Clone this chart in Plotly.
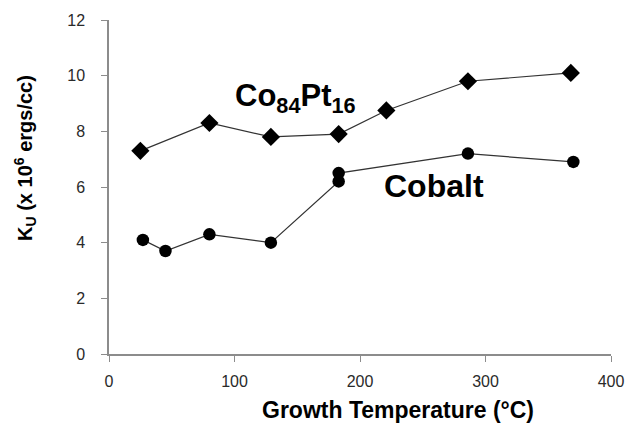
import plotly.graph_objects as go

# Growth temperature (°C) and uniaxial anisotropy K_U (x 10^6 ergs/cc)
copt_temp = [25, 80, 129, 183, 221, 286, 368]
copt_ku = [7.3, 8.3, 7.8, 7.9, 8.75, 9.8, 10.1]

co_temp = [27, 45, 80, 129, 183, 183, 286, 370]
co_ku = [4.1, 3.7, 4.3, 4.0, 6.2, 6.5, 7.2, 6.9]

x_ticks = [0, 100, 200, 300, 400]
y_ticks = [0, 2, 4, 6, 8, 10, 12]

line_col = "#333333"
axis_col = "#8c8c8c"

W, H = 636, 423
L, R, T, B = 109, 23, 19, 69


def px_to_paper(px, py):
    return (px - L) / (W - L - R), 1 - (py - T) / (H - T - B)


fig = go.Figure()
fig.add_trace(go.Scatter(
    x=copt_temp, y=copt_ku, mode="lines+markers",
    line=dict(color=line_col, width=1.2),
    marker=dict(symbol="diamond", size=14, color="black"),
    showlegend=False,
))
fig.add_trace(go.Scatter(
    x=co_temp, y=co_ku, mode="lines+markers",
    line=dict(color=line_col, width=1.2),
    marker=dict(symbol="circle", size=12.5, color="black"),
    showlegend=False,
))

bold = "Liberation Sans"
fig.add_annotation(x=149, y=9.2, xref="x", yref="y", showarrow=False,
                   text="<b>Co<sub>84</sub>Pt<sub>16</sub></b>",
                   font=dict(family=bold, size=31, color="black"))
fig.add_annotation(x=259, y=6.05, xref="x", yref="y", showarrow=False,
                   text="<b>Cobalt</b>",
                   font=dict(family=bold, size=32, color="black"))

# axis titles
yx, yy = px_to_paper(25, 157)
fig.add_annotation(x=yx, y=yy, xref="paper", yref="paper", showarrow=False,
                   xanchor="center", yanchor="middle",
                   text="<b>K<sub>U</sub> (x 10<sup>6</sup> ergs/cc)</b>",
                   textangle=-90, font=dict(family=bold, size=20, color="black"))
xx, xy = px_to_paper(399, 410)
fig.add_annotation(x=xx, y=xy, xref="paper", yref="paper", showarrow=False,
                   xanchor="center", yanchor="middle",
                   text="<b>Growth Temperature (°C)</b>",
                   font=dict(family=bold, size=23, color="black"))

tick_font = dict(family="Liberation Sans", size=16, color="#2a2a2a")
fig.update_layout(
    width=W, height=H, margin=dict(l=L, r=R, t=T, b=B),
    plot_bgcolor="white", paper_bgcolor="white",
    xaxis=dict(range=[0, 400], tickvals=x_ticks, showgrid=False, zeroline=False,
               showline=True, linecolor=axis_col, linewidth=1.5,
               ticks="outside", ticklen=6, tickcolor=axis_col, tickwidth=1.2,
               tickfont=tick_font, ticklabelstandoff=6),
    yaxis=dict(range=[0, 12], tickvals=y_ticks, showgrid=False, zeroline=False,
               showline=True, linecolor=axis_col, linewidth=1.5,
               ticks="outside", ticklen=6, tickcolor=axis_col, tickwidth=1.2,
               tickfont=tick_font, ticklabelstandoff=13),
)

fig.write_html("out.html")
